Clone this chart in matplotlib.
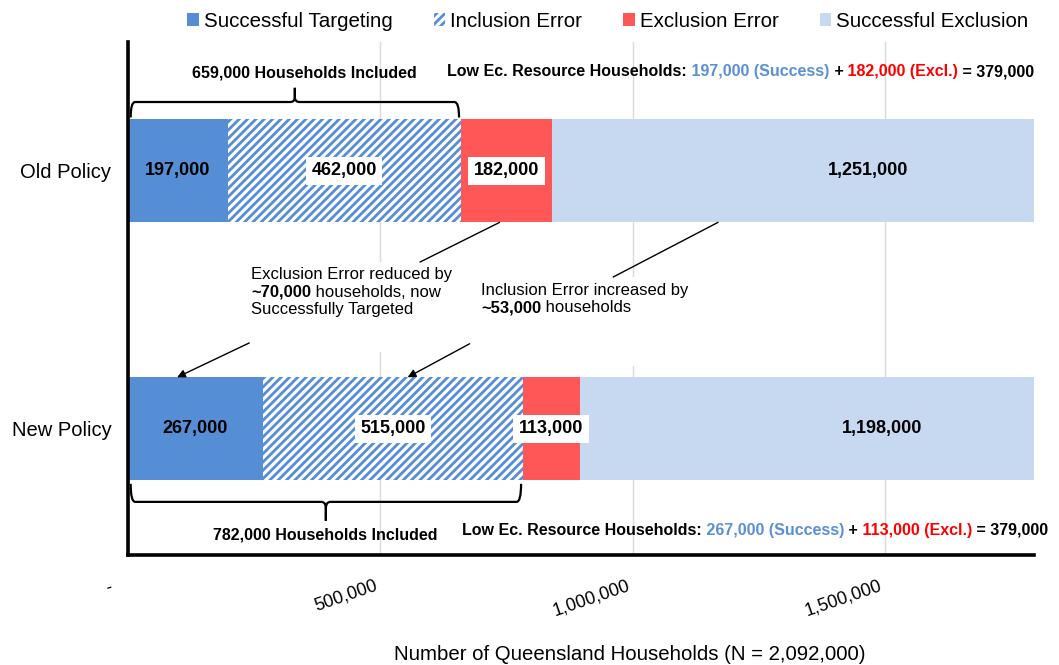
import matplotlib
matplotlib.use("Agg")
import matplotlib.pyplot as plt
from matplotlib.patches import Patch, PathPatch, Rectangle
from matplotlib.path import Path
from matplotlib.ticker import FuncFormatter
from matplotlib.transforms import ScaledTranslation

plt.rcParams['font.family'] = ['Liberation Sans', 'DejaVu Sans']
plt.rcParams['hatch.linewidth'] = 2.0

# household counts per policy
policies = ['Old Policy', 'New Policy']
targeting = [197000, 267000]
inclusion = [462000, 515000]
exclusion = [182000, 113000]
excl_ok = [1251000, 1198000]
total_n = 2092000
low_res = 379000

c_target = '#558ED5'
c_excl = '#FF5757'
c_ok = '#C6D9F1'
c_txt_blue = '#5B8FD6'

fig = plt.figure(figsize=(10.59, 6.65), dpi=100)
ax = fig.add_axes([0.121, 0.165, 0.855, 0.772])

ypos = [1, 0]
h = 0.4
left1 = [a + b for a, b in zip(targeting, inclusion)]
left2 = [a + b for a, b in zip(left1, exclusion)]

ax.barh(ypos, targeting, height=h, color=c_target, lw=0, zorder=2)
ax.barh(ypos, inclusion, left=targeting, height=h, color='white',
        edgecolor=c_target, hatch='////', lw=0, zorder=2)
ax.barh(ypos, exclusion, left=left1, height=h, color=c_excl, lw=0, zorder=2)
ax.barh(ypos, excl_ok, left=left2, height=h, color=c_ok, lw=0, zorder=2)

box = dict(boxstyle='square,pad=0.3', fc='white', ec='none')
for i, y in enumerate(ypos):
    ax.text(targeting[i] / 2, y, f'{targeting[i]:,}', ha='center', va='center',
            fontsize=13, fontweight='bold', zorder=5)
    ax.text(targeting[i] + inclusion[i] / 2, y, f'{inclusion[i]:,}', ha='center',
            va='center', fontsize=13, fontweight='bold', bbox=box, zorder=5)
    ax.text(left1[i] + exclusion[i] / 2, y, f'{exclusion[i]:,}', ha='center',
            va='center', fontsize=13, fontweight='bold', bbox=box, zorder=5)
    ax.text(left2[i] + excl_ok[i] / 2, y, f'{excl_ok[i]:,}', ha='center',
            va='center', fontsize=13, fontweight='bold', zorder=5)

ax.set_xlim(0, 1795000)
ax.set_ylim(-0.49, 1.5)
ax.set_xticks([0, 500000, 1000000, 1500000])
ax.xaxis.set_major_formatter(FuncFormatter(lambda v, p: '' if v == 0 else f'{v:,.0f}'))
ax.set_yticks(ypos)
ax.set_yticklabels(policies, fontsize=14.5)
ax.tick_params(axis='y', length=0, pad=12)
ax.tick_params(axis='x', length=0, pad=15.5, labelsize=13)
shift = ScaledTranslation(-0.06, 0, fig.dpi_scale_trans)
for lab in ax.get_xticklabels():
    lab.set_rotation(19)
    lab.set_ha('right')
    lab.set_va('top')
    lab.set_rotation_mode('anchor')
    lab.set_transform(lab.get_transform() + shift)
# zero shown as a dash, accounting style
ax.annotate('-', xy=(0, 0), xycoords=('data', 'axes fraction'), xytext=(-14, -24),
            textcoords='offset points', ha='center', va='center', rotation=19,
            fontsize=13)
ax.grid(axis='x', color='#D9D9D9', lw=1, zorder=0)
ax.set_axisbelow(True)
for s in ['top', 'right']:
    ax.spines[s].set_visible(False)
for s in ['left', 'bottom']:
    ax.spines[s].set_linewidth(2.6)
    ax.spines[s].set_color('black')
    ax.spines[s].set_zorder(6)

ax.set_xlabel(f'Number of Queensland Households (N = {total_n:,})', fontsize=14.7,
              labelpad=19)
ax.xaxis.label.set_x(0.554)


def brace(x0, x1, y_end, y_mid, y_tip, dx=9000):
    xm = (x0 + x1) / 2
    dy = (y_tip - y_mid) * 0.35
    verts = [(x0, y_end), (x0, y_mid), (x0 + dx, y_mid),
             (xm - dx, y_mid), (xm, y_mid), (xm, y_mid + dy),
             (xm, y_tip), (xm, y_tip), (xm, y_mid + dy),
             (xm, y_mid), (xm + dx, y_mid),
             (x1 - dx, y_mid), (x1, y_mid), (x1, y_end)]
    codes = [Path.MOVETO, Path.CURVE3, Path.CURVE3,
             Path.LINETO, Path.CURVE3, Path.CURVE3,
             Path.LINETO, Path.MOVETO, Path.LINETO,
             Path.CURVE3, Path.CURVE3,
             Path.LINETO, Path.CURVE3, Path.CURVE3]
    ax.add_patch(PathPatch(Path(verts, codes), fc='none', ec='black', lw=1.6,
                           zorder=4, clip_on=False))


def rich(x, y, parts, size=11.5):
    t = ax.text(x, y, parts[0][0], color=parts[0][1], fontweight=parts[0][2],
                fontsize=size, ha='left', va='center', zorder=5)
    for s, c, w in parts[1:]:
        t = ax.annotate(s, xy=(1, 0), xycoords=t, ha='left', va='bottom',
                        color=c, fontweight=w, fontsize=size, zorder=5)
    return t


# households included brackets
brace(5000, left1[0] - 3000, 1.207, 1.267, 1.322)
ax.text(349000, 1.38, f'{left1[0]:,} Households Included', ha='center',
        va='center', fontsize=11.5, fontweight='bold')
brace(5000, left1[1] - 3000, -0.213, -0.283, -0.357)
ax.text(left1[1] / 2, -0.413, f'{left1[1]:,} Households Included', ha='center',
        va='center', fontsize=11.5, fontweight='bold')

# low economic resource household totals
for i, (xs, ys) in enumerate([(633000, 1.384), (662000, -0.393)]):
    rich(xs, ys, [('Low Ec. Resource Households:', 'black', 'bold'),
                  (f' {targeting[i]:,} (Success)', c_txt_blue, 'bold'),
                  (' +', 'black', 'bold'),
                  (f' {exclusion[i]:,} (Excl.)', 'red', 'bold'),
                  (f' = {low_res:,}', 'black', 'bold')])

# change callouts between the two policies (white text boxes hide the grid)
ax.add_patch(Rectangle((220000, 0.298), 437000, 0.349, fc='white', ec='none', zorder=1))
ax.add_patch(Rectangle((677000, 0.244), 420000, 0.345, fc='white', ec='none', zorder=1))

arrow = dict(arrowstyle='-|>', color='black', lw=1, mutation_scale=12,
             shrinkA=0, shrinkB=0)
ax.plot([736000, 579000], [0.8, 0.647], color='black', lw=1, zorder=4)
ax.annotate('', xy=(97000, 0.2), xytext=(240000, 0.333), arrowprops=arrow)
ax.plot([1169000, 962000], [0.8, 0.589], color='black', lw=1, zorder=4)
ax.annotate('', xy=(554000, 0.2), xytext=(677000, 0.33), arrowprops=arrow)

lh = 0.068
y1 = 0.597
ax.text(244000, y1, 'Exclusion Error reduced by', fontsize=12, ha='left', va='center')
rich(244000, y1 - lh, [('~70,000', 'black', 'bold'),
                       (' households, now', 'black', 'normal')], size=12)
ax.text(244000, y1 - 2 * lh, 'Successfully Targeted', fontsize=12, ha='left', va='center')
y2 = 0.538
ax.text(700000, y2, 'Inclusion Error increased by', fontsize=12, ha='left', va='center')
rich(700000, y2 - lh, [('~53,000', 'black', 'bold'),
                       (' households', 'black', 'normal')], size=12)

handles = [Patch(facecolor=c_target, lw=0),
           Patch(facecolor='white', edgecolor=c_target, hatch='////', lw=0),
           Patch(facecolor=c_excl, lw=0),
           Patch(facecolor=c_ok, lw=0)]
fig.legend(handles, ['Successful Targeting', 'Inclusion Error', 'Exclusion Error',
                     'Successful Exclusion'],
           loc='center', bbox_to_anchor=(0.574, 0.968), ncol=4, frameon=False,
           fontsize=14.8, handlelength=0.55, handleheight=0.55, handletextpad=0.25,
           columnspacing=2.0)

fig.savefig('out.png', dpi=100)
